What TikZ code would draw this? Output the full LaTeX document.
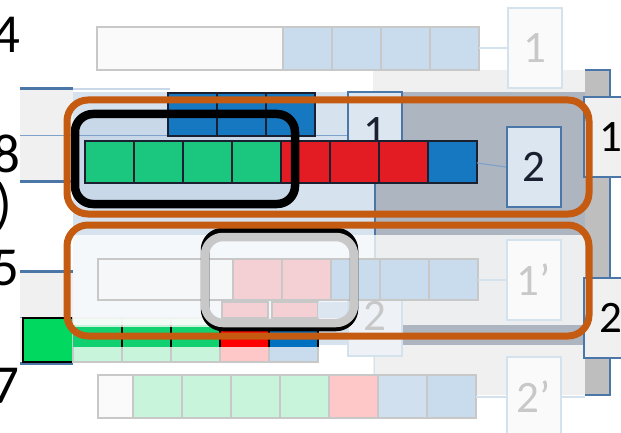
\documentclass[tikz,border=0pt]{standalone}
\usepackage{fontspec}
\setmainfont{Carlito}
\usetikzlibrary{positioning}

% cell colours
\definecolor{cgreen}{HTML}{1BC67F}
\definecolor{cred}{HTML}{E31B23}
\definecolor{cblue}{HTML}{1778C2}
\definecolor{brightgreen}{HTML}{00D860}
\definecolor{stripgreen}{HTML}{10D070}
\definecolor{stripred}{HTML}{FF0000}
\definecolor{stripblue}{HTML}{0070C0}
\definecolor{lgreen}{HTML}{C8F4DC}
\definecolor{lpink}{HTML}{FFC8C8}
\definecolor{lblue}{HTML}{C8DCEE}
\definecolor{lblueb}{HTML}{D0E0EE}
\definecolor{scrappink}{HTML}{F4D0D4}
% frames and backgrounds
\definecolor{ghostgray}{HTML}{C8C8C8}
\definecolor{ghostfill}{HTML}{FAFAFA}
\definecolor{ghostblue}{HTML}{D4E2EE}
\definecolor{boxblue}{HTML}{4A76A8}
\definecolor{boxfill}{HTML}{DCE6F0}
\definecolor{linkblue}{HTML}{7EA2CC}
\definecolor{panelgray}{HTML}{F0F0F0}
\definecolor{stripgray}{HTML}{BEBEBE}
\definecolor{bandsky}{HTML}{D6E3EF}
\definecolor{bandslate}{HTML}{ADB6C0}
\definecolor{insidesky}{HTML}{C8D8E8}
\definecolor{hlorange}{HTML}{C55A11}
\definecolor{darktext}{HTML}{1A2030}

\tikzset{
  cell/.style={draw=darktext, line width=2pt},
  ghostcell/.style={draw=ghostgray, line width=2.5pt},
  treebox/.style={rectangle, draw=boxblue, line width=2pt, fill=boxfill,
    text=darktext, minimum width=54pt, minimum height=80pt, inner sep=0pt,
    font=\fontsize{45}{50}\selectfont},
  ghostbox/.style={treebox, draw=ghostblue, fill=ghostfill, text=ghostgray},
  link/.style={draw=linkblue, line width=1.2pt},
  hilite/.style={draw=hlorange, line width=7pt, rounded corners=21pt},
  rowlabel/.style={anchor=base east, inner sep=0pt, font=\fontsize{55}{60}\selectfont},
}

\begin{document}
\begin{tikzpicture}[x=1pt, y=-1pt]
    \useasboundingbox (0,0) rectangle (621,433);
    \clip (0,0) rectangle (621,433);

    % 1. Panel on the right with its dark strip
    \fill[panelgray] (373,70) rectangle (585,395);
    \filldraw[fill=stripgray, draw=boxblue, line width=1.5pt]
        (585,70) -- (610,70) -- (610,395) -- (585,395);

    % 2. Top row (faded) and its node 1
    \draw[ghostcell, fill=ghostfill] (97,27) rectangle (283,70);
    \foreach \i in {0,...,3}
        \draw[ghostcell, fill=lblue] (283+49*\i,27) rectangle ++(49,43);
    \node[ghostbox] (top1) at (535,48) {1};
    \coordinate (top4end) at (479,48);
    \draw[link, draw=ghostblue] (top4end) -- (top1.west);

    % 3. Left panels behind rows 8 and 5
    \fill[panelgray] (20,88) rectangle (73,182);
    \draw[line width=3pt, boxblue] (20,89) -- (73,89);
    \draw[line width=2pt, insidesky] (73,89) -- (170,89);
    \draw[line width=3pt, boxblue] (20,181) -- (73,181);
    \fill[panelgray] (20,271) rectangle (73,363);
    \draw[line width=3pt, boxblue] (20,271) -- (73,271);
    \draw[line width=1pt, linkblue] (20,317) -- (73,317);
    \draw[line width=3pt, boxblue] (20,363) -- (73,363);

    % 4. Shaded bands of the tree
    \fill[bandsky] (73,92) rectangle (375,345);
    \fill[bandslate] (375,92) rectangle (585,345);
    \draw[line width=1.5pt, boxblue] (375,92) -- (375,345);
    \fill[insidesky, rounded corners=18pt] (75,114) rectangle (295,204);
    \draw[line width=1pt, linkblue] (20,136) -- (348,136);

    % 5. Row 8: blue cells, node 1, main row and node 2
    \foreach \i in {0,1,2}
        \draw[cell, fill=cblue] (168+49*\i,93) rectangle ++(49,43);
    \node[treebox] (mid1) at (374.5,132) {1};
    \foreach \i/\c in {0/cgreen,1/cgreen,2/cgreen,3/cgreen,4/cred,5/cred,6/cred,7/cblue}
        \draw[cell, fill=\c] (85+49*\i,141) rectangle ++(49,42);
    \node[treebox] (mid2) at (534,167) {2};
    \coordinate (row8end) at (477,163);
    \draw[link] (row8end) -- (mid2.west);

    % 6. Lower left row
    \draw[line width=2.5pt, fill=brightgreen] (23,318) rectangle (73,362);
    \foreach \i/\c in {0/lgreen,1/lgreen,2/lgreen,3/lpink,4/lblue}
        \draw[ghostcell, fill=\c] (73+49*\i,318) rectangle ++(49,44);
    \foreach \i/\c in {0/stripgreen,1/stripgreen,2/stripgreen,3/stripred,4/stripblue}
        \fill[\c] (73+49*\i,327) rectangle ++(49,20);
    \foreach \x in {122,171,220,269,318}
        \draw[line width=2pt] (\x,327) -- (\x,347);

    % 7. White veil over row 5
    \fill[white, opacity=0.77] (73,235) rectangle (585,325);

    % 8. Row 5 (faded), leftovers and nodes 2, 1'
    \draw[ghostcell, line width=1.5pt, fill=scrappink] (222,302) rectangle (268,318);
    \draw[ghostcell, line width=1.5pt, fill=scrappink] (272,302) rectangle (318,318);
    \fill[boxfill] (318,302) rectangle (348,318);
    \node[ghostbox, fill=ghostfill!60!boxfill] (ghost2) at (374.5,316) {2};
    \coordinate (row7top) at (374.5,375);
    \draw[link, draw=ghostblue] (ghost2.south) -- (row7top);
    \draw[ghostcell, fill=ghostfill!85!boxfill] (98,259) rectangle (233,300);
    \foreach \i/\c in {0/scrappink,1/scrappink,2/lblue,3/lblue,4/lblue}
        \draw[ghostcell, fill=\c] (233+49*\i,259) rectangle ++(49,41);
    \node[ghostbox] (ghost1p) at (534,280) {1’};
    \coordinate (row5end) at (478,280);
    \draw[link, draw=ghostblue] (row5end) -- (ghost1p.west);

    % 9. Faded selection over row 5
    \draw[line width=8.5pt, rounded corners=18pt] (205,232) rectangle (354,327);
    \draw[line width=8.5pt, ghostgray, rounded corners=18pt] (205,237) rectangle (354,323);

    % 10. Bottom row (faded) and node 2'
    \draw[ghostcell, fill=ghostfill] (98,375) rectangle (133,418);
    \foreach \i/\c in {0/lgreen,1/lgreen,2/lgreen,3/lgreen,4/lpink,5/lblueb,6/lblue}
        \draw[ghostcell, fill=\c] (133+49*\i,375) rectangle ++(49,43);
    \node[ghostbox] (ghost2p) at (534,397) {2’};
    \coordinate (row7end) at (476,397);
    \coordinate (stripin) at (585,397);
    \draw[link, draw=ghostblue] (row7end) -- (ghost2p.west);
    \draw[link, draw=ghostblue] (ghost2p.east) -- (stripin);

    % 11. Selection on row 8
    \draw[line width=8.5pt, rounded corners=18pt] (75,114) rectangle (295,204);

    % 12. Nodes on the far right
    \node[treebox, fill=panelgray, text=black] (side1) at (611,137) {1};
    \node[treebox, fill=panelgray, text=black] (side2) at (611,318) {2};

    % 13. Orange frames
    \draw[hilite] (67,100) rectangle (589,214);
    \draw[hilite] (67,225) rectangle (589,336);

    % 14. Row labels on the left
    \node[rowlabel] (lab4) at (21,53) {4};
    \node[rowlabel] (lab8) at (21,172) {8};
    \node[rowlabel] (labp) at (12,222) {)};
    \node[rowlabel] (lab5) at (20,285) {5};
    \node[rowlabel] (lab7) at (20,403) {7};
\end{tikzpicture}
\end{document}
